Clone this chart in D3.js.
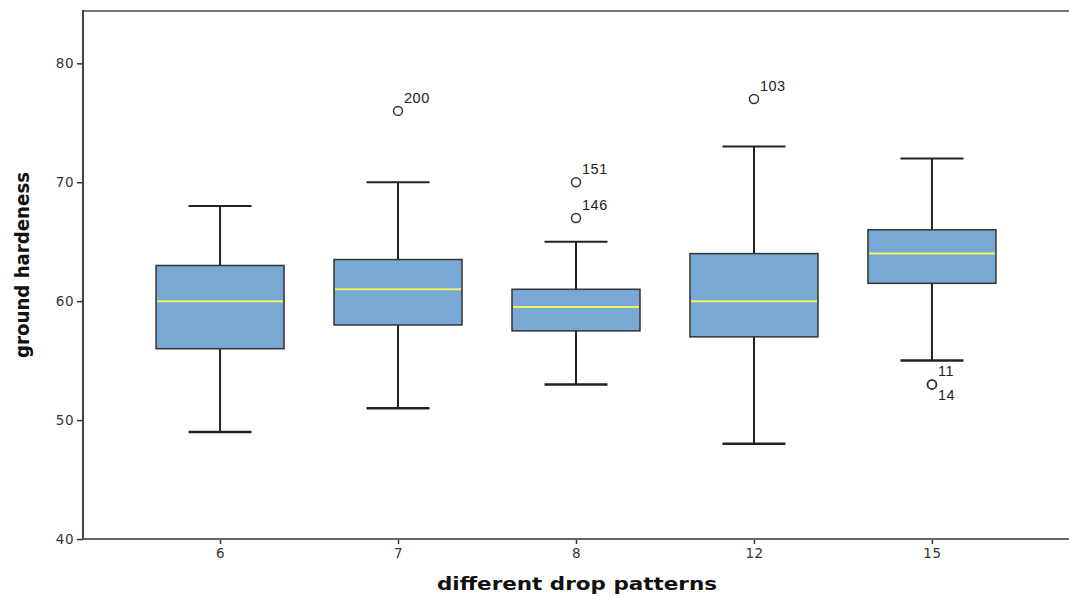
<!DOCTYPE html>
<html>
<head>
<meta charset="utf-8">
<script src="https://cdn.jsdelivr.net/npm/d3@7"></script>
<style>
  body { margin: 0; background: #fff; }
  svg { display: block; }
</style>
</head>
<body>
<script>
const w = 1069
const h = 596

// box stats
const categories = ['6', '7', '8', '12', '15']
const lowWhisker = [49, 51, 53, 48, 55]
const q1 = [56, 58, 57.5, 57, 61.5]
const median = [60, 61, 59.5, 60, 64]
const q3 = [63, 63.5, 61, 64, 66]
const highWhisker = [68, 70, 65, 73, 72]

// outliers: category, value, case label
const outlierCat = ['7', '8', '8', '12', '15', '15']
const outlierVal = [76, 70, 67, 77, 53, 53]
const outlierLabel = ['200', '151', '146', '103', '11', '14']

const yTicks = [40, 50, 60, 70, 80]

const margin = { top: 11, right: 0, bottom: 57, left: 83 }

const svg = d3.select('body').append('svg')
  .attr('width', w)
  .attr('height', h)

const x = d3.scalePoint()
  .domain(categories)
  .range([margin.left, w])
  .padding(0.77)

const y = d3.scaleLinear()
  .domain([40, 84.4])
  .range([h - margin.bottom, margin.top])

const boxW = 128
const capW = 63

// frame top line
svg.append('line')
  .attr('x1', margin.left).attr('x2', w)
  .attr('y1', margin.top).attr('y2', margin.top)
  .attr('stroke', '#777').attr('stroke-width', 2)

// axes
const yAxis = svg.append('g')
  .attr('transform', `translate(${margin.left},0)`)
  .call(d3.axisLeft(y).tickValues(yTicks).tickSize(6).tickPadding(3))
const xAxis = svg.append('g')
  .attr('transform', `translate(0,${h - margin.bottom})`)
  .call(d3.axisBottom(x).tickSize(5).tickPadding(4))

yAxis.select('.domain').remove()
svg.append('line')
  .attr('x1', margin.left).attr('x2', margin.left)
  .attr('y1', margin.top - 1).attr('y2', h - margin.bottom)
  .attr('stroke', '#444').attr('stroke-width', 2)

xAxis.select('.domain').remove()
svg.append('line')
  .attr('x1', margin.left).attr('x2', w)
  .attr('y1', h - margin.bottom).attr('y2', h - margin.bottom)
  .attr('stroke', '#666').attr('stroke-width', 2)

svg.selectAll('.tick line').attr('stroke', '#333').attr('stroke-width', 1.5)
svg.selectAll('.tick text')
  .attr('font-family', 'DejaVu Sans')
  .attr('font-size', 13.5)
  .attr('letter-spacing', 0.5)
  .attr('fill', '#333')

// boxes
const rows = categories.map((c, i) => ({
  c, lo: lowWhisker[i], q1: q1[i], med: median[i], q3: q3[i], hi: highWhisker[i]
}))

const g = svg.append('g')
  .selectAll('g')
  .data(rows)
  .enter().append('g')

g.append('line')
  .attr('x1', d => x(d.c)).attr('x2', d => x(d.c))
  .attr('y1', d => y(d.hi)).attr('y2', d => y(d.q3))
  .attr('stroke', '#222').attr('stroke-width', 2)
g.append('line')
  .attr('x1', d => x(d.c)).attr('x2', d => x(d.c))
  .attr('y1', d => y(d.q1)).attr('y2', d => y(d.lo))
  .attr('stroke', '#222').attr('stroke-width', 2)
g.append('line')
  .attr('x1', d => x(d.c) - capW / 2).attr('x2', d => x(d.c) + capW / 2)
  .attr('y1', d => y(d.hi)).attr('y2', d => y(d.hi))
  .attr('stroke', '#222').attr('stroke-width', 2)
g.append('line')
  .attr('x1', d => x(d.c) - capW / 2).attr('x2', d => x(d.c) + capW / 2)
  .attr('y1', d => y(d.lo)).attr('y2', d => y(d.lo))
  .attr('stroke', '#222').attr('stroke-width', 2.5)

g.append('rect')
  .attr('x', d => x(d.c) - boxW / 2)
  .attr('width', boxW)
  .attr('y', d => y(d.q3))
  .attr('height', d => y(d.q1) - y(d.q3))
  .attr('fill', '#79a8d4')
  .attr('stroke', '#333')
  .attr('stroke-width', 1.5)

g.append('line')
  .attr('x1', d => x(d.c) - boxW / 2 + 1).attr('x2', d => x(d.c) + boxW / 2 - 1)
  .attr('y1', d => y(d.med)).attr('y2', d => y(d.med))
  .attr('stroke', '#f2f266').attr('stroke-width', 2)

// outliers
const outs = outlierCat.map((c, i) => ({ c, v: outlierVal[i], label: outlierLabel[i] }))

svg.append('g').selectAll('circle')
  .data(outs)
  .enter().append('circle')
  .attr('cx', d => x(d.c))
  .attr('cy', d => y(d.v))
  .attr('r', 4.5)
  .attr('fill', 'none')
  .attr('stroke', '#333')
  .attr('stroke-width', 1.5)

// 14 sits below the circle, the rest above-right
svg.append('g').selectAll('text')
  .data(outs)
  .enter().append('text')
  .attr('x', d => x(d.c) + 6)
  .attr('y', d => d.label === '14' ? y(d.v) + 16 : y(d.v) - 8)
  .attr('font-family', 'Liberation Sans, Arial, sans-serif')
  .attr('font-size', 14.5)
  .attr('letter-spacing', 0.5)
  .attr('fill', '#222')
  .text(d => d.label)

// titles
svg.append('text')
  .attr('transform', `translate(29,${265}) rotate(-90)`)
  .attr('text-anchor', 'middle')
  .attr('font-family', 'DejaVu Sans Condensed, DejaVu Sans, sans-serif')
  .attr('font-weight', 'bold')
  .attr('font-size', 19)
  .attr('textLength', 186)
  .attr('lengthAdjust', 'spacingAndGlyphs')
  .attr('fill', '#111')
  .text('ground hardeness')

svg.append('text')
  .attr('x', 577)
  .attr('y', 590)
  .attr('text-anchor', 'middle')
  .attr('font-family', 'DejaVu Sans')
  .attr('font-weight', 'bold')
  .attr('font-size', 17)
  .attr('textLength', 280)
  .attr('lengthAdjust', 'spacingAndGlyphs')
  .attr('fill', '#111')
  .text('different drop patterns')
</script>
</body>
</html>
